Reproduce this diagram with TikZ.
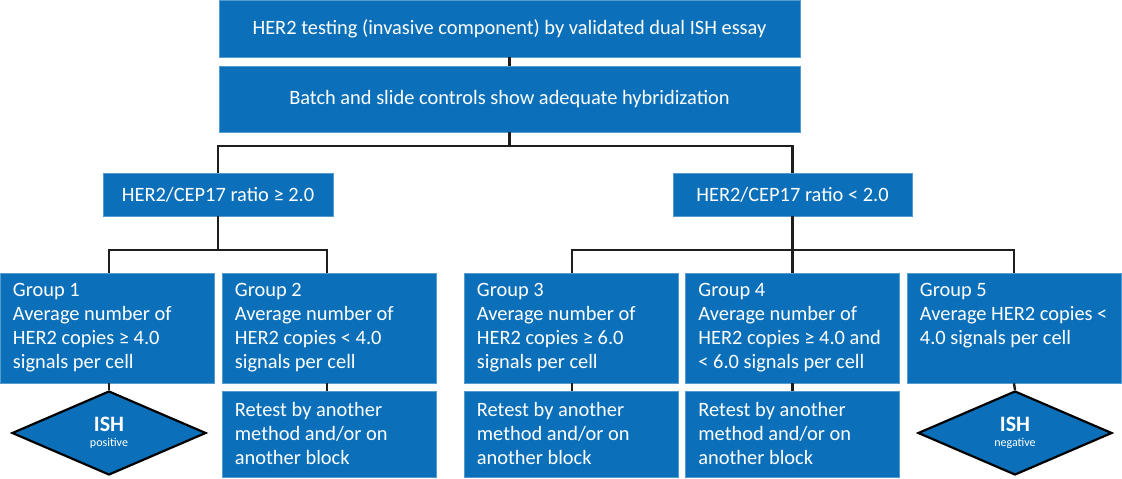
\documentclass[tikz,border=0pt]{standalone}
\usepackage{fontspec}
\setmainfont{Carlito}
\usetikzlibrary{shapes.geometric}
\definecolor{boxblue}{RGB}{11,112,185}
\definecolor{linegray}{RGB}{30,30,30}
\begin{document}
\begin{tikzpicture}[x=1pt,y=-1pt,
  base/.style={fill=boxblue, draw=boxblue!70!white, line width=0.6pt, text=white, inner sep=0pt},
  bodyfont/.style={font=\fontsize{20.4}{24}\selectfont},
  wide/.style={base, bodyfont, minimum width=581pt},
  ratio/.style={base, bodyfont, minimum height=43pt},
  grp/.style={base, minimum width=214pt, minimum height=110pt},
  retest/.style={base, minimum width=214pt, minimum height=86pt},
  gtext/.style={bodyfont, text=white, inner sep=0pt, anchor=north west, align=left},
  ish/.style={diamond, fill=boxblue, draw=black, line width=2.2pt, text=white, inner sep=0pt,
    minimum width=194pt, minimum height=84pt, align=center},
  conn/.style={draw=linegray, line width=2.4pt}
]
\useasboundingbox (0,0) rectangle (1122,479);

% top boxes
\node[wide, minimum height=57pt] (t1) at (509.5,28.5) {HER2 testing (invasive component) by validated dual ISH essay};
\node[wide, minimum height=66pt] (t2) at (509.5,99) {Batch and slide controls show adequate hybridization};

% ratio boxes
\node[ratio, minimum width=230pt] (rl) at (218,194.5) {HER2/CEP17 ratio ≥ 2.0};
\node[ratio, minimum width=239pt] (rr) at (792.5,194.5) {HER2/CEP17 ratio < 2.0};

% group boxes
\node[grp] (g1) at (107,328) {};
\node[grp] (g2) at (329,328) {};
\node[grp] (g3) at (571,328) {};
\node[grp] (g4) at (792.5,328) {};
\node[grp] (g5) at (1014,328) {};

\node[gtext] (g1t) at ([xshift=13pt]g1.north west) {\rule{0pt}{23.5pt}Group 1\\Average number of\\HER2 copies ≥ 4.0\\signals per cell};
\node[gtext] (g2t) at ([xshift=13pt]g2.north west) {\rule{0pt}{23.5pt}Group 2\\Average number of\\HER2 copies < 4.0\\signals per cell};
\node[gtext] (g3t) at ([xshift=13pt]g3.north west) {\rule{0pt}{23.5pt}Group 3\\Average number of\\HER2 copies ≥ 6.0\\signals per cell};
\node[gtext] (g4t) at ([xshift=13pt]g4.north west) {\rule{0pt}{23.5pt}Group 4\\Average number of\\HER2 copies ≥ 4.0 and\\< 6.0 signals per cell};
\node[gtext] (g5t) at ([xshift=13pt]g5.north west) {\rule{0pt}{23.5pt}Group 5\\Average HER2 copies <\\4.0 signals per cell};

% bottom row
\node[ish] (d1) at (109,433) {\fontsize{22}{22}\selectfont\bfseries ISH\\[3pt]\fontsize{12}{12}\selectfont positive};
\node[retest] (r2) at (329,434) {};
\node[retest] (r3) at (571,434) {};
\node[retest] (r4) at (792.5,434) {};
\node[ish] (d5) at (1015,433) {\fontsize{22}{22}\selectfont\bfseries ISH\\[3pt]\fontsize{12}{12}\selectfont negative};

\node[gtext] (r2t) at ([xshift=13pt]r2.north west) {\rule{0pt}{26pt}Retest by another\\method and/or on\\another block};
\node[gtext] (r3t) at ([xshift=13pt]r3.north west) {\rule{0pt}{26pt}Retest by another\\method and/or on\\another block};
\node[gtext] (r4t) at ([xshift=13pt]r4.north west) {\rule{0pt}{26pt}Retest by another\\method and/or on\\another block};

% junctions
\coordinate (jt) at (509.5,146);
\coordinate (jl) at (218,250);
\coordinate (jr) at (792.5,250);

% connectors
\draw[conn] (t1.south) -- (t2.north);
\draw[conn] (t2.south) -- (jt);
\draw[conn] (rl.north) |- (jt) -| (rr.north);
\draw[conn] (rl.south) -- (jl);
\draw[conn] ([xshift=2pt]g1.north) |- (jl) -| ([xshift=-2pt]g2.north);
\draw[conn] (rr.south) -- (g4.north);
\draw[conn] ([xshift=1pt]g3.north) |- (jr) -| (g5.north);
\draw[conn] ([xshift=2pt]g1.south) -- (d1.north);
\draw[conn] ([xshift=-2pt]g2.south) -- ([xshift=-2pt]r2.north);
\draw[conn] ([xshift=1pt]g3.south) -- ([xshift=1pt]r3.north);
\draw[conn] (g4.south) -- (r4.north);
\draw[conn] (g5.south) -- (d5.north);
\end{tikzpicture}
\end{document}
